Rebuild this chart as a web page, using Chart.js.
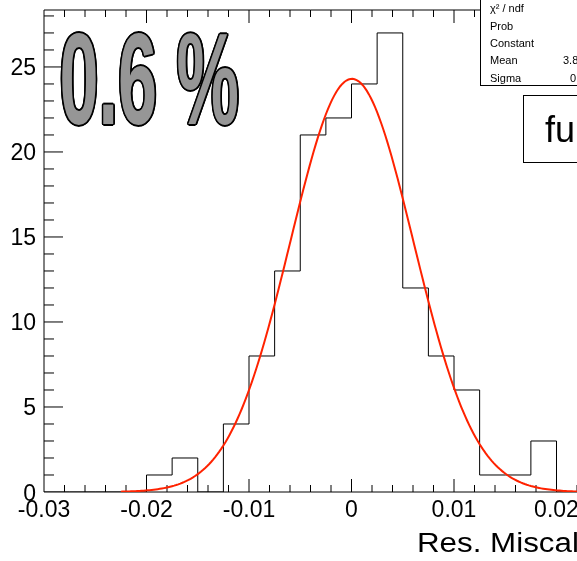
<!DOCTYPE html>
<html>
<head>
<meta charset="utf-8">
<script src="https://cdn.jsdelivr.net/npm/chart.js@4.4.1/dist/chart.umd.min.js"></script>
<style>
  html, body { margin: 0; padding: 0; background: #fff; }
  canvas { display: block; }
</style>
</head>
<body>
<canvas id="resChart" width="577" height="561"></canvas>
<script>
// histogram: low edge of each bin and its entries
const binLowEdges = [-0.03, -0.0275, -0.025, -0.0225, -0.02, -0.0175, -0.015, -0.0125,
                     -0.01, -0.0075, -0.005, -0.0025, 0, 0.0025, 0.005, 0.0075,
                     0.01, 0.0125, 0.015, 0.0175, 0.02, 0.0225, 0.025, 0.0275];
const binCounts = [0, 0, 0, 0, 1, 2, 0, 4,
                   8, 13, 21, 22, 24, 27, 12, 8,
                   6, 1, 1, 3, 0, 0, 0, 0];
const binWidth = 0.0025;

const xTickValues = [-0.03, -0.02, -0.01, 0, 0.01, 0.02];
const xTickLabels = ['-0.03', '-0.02', '-0.01', '0', '0.01', '0.02'];
const yTickValues = [0, 5, 10, 15, 20, 25];
const yTickLabels = ['0', '5', '10', '15', '20', '25'];

// gaus fit parameters
const fitConstant = 24.3;
const fitMean = 0.00004;
const fitSigma = 0.0060;
const fitRange = [-0.0225, 0.0225];

const statsNames = ['\u03C7\u00B2 / ndf', 'Prob', 'Constant', 'Mean', 'Sigma'];
const meanText = '3.8e-05 \u00B1 4.8e-04';
const sigmaText = '0.0060 \u00B1 0.0004';

const TICK_FONT = '23px "Liberation Sans", Arial, sans-serif';

function gaus(x) {
    const t = (x - fitMean) / fitSigma;
    return fitConstant * Math.exp(-0.5 * t * t);
}

const histPoints = binLowEdges.map((x, i) => ({ x, y: binCounts[i] }));
histPoints.push({ x: binLowEdges[binLowEdges.length - 1] + binWidth, y: 0 });

const fitPoints = [];
for (let x = fitRange[0]; x <= fitRange[1] + 1e-9; x += 0.0002) {
    fitPoints.push({ x, y: gaus(x) });
}

// frame, inward ticks and tick labels
const frameAxes = {
    id: 'frameAxes',
    beforeDatasetsDraw(chart) {
        const { ctx, chartArea: a, scales: { x, y } } = chart;
        ctx.save();
        ctx.strokeStyle = '#000';
        ctx.lineWidth = 1;
        ctx.beginPath();
        ctx.moveTo(a.left, a.top); ctx.lineTo(a.right, a.top);
        ctx.moveTo(a.left, a.top); ctx.lineTo(a.left, a.bottom);
        ctx.moveTo(a.left, a.bottom); ctx.lineTo(a.right, a.bottom);
        for (let k = -15; k <= 12; k++) {
            const px = x.getPixelForValue(k * 0.002);
            if (px < a.left + 1 || px > a.right) continue;
            const len = k % 5 === 0 ? 13 : 7;
            ctx.moveTo(px, a.bottom); ctx.lineTo(px, a.bottom - len);
            ctx.moveTo(px, a.top); ctx.lineTo(px, a.top + len);
        }
        for (let v = 1; v <= 28; v++) {
            const py = y.getPixelForValue(v);
            const len = v % 5 === 0 ? 19 : 10;
            ctx.moveTo(a.left, py); ctx.lineTo(a.left + len, py);
        }
        ctx.stroke();

        ctx.fillStyle = '#000';
        ctx.font = TICK_FONT;
        ctx.textAlign = 'center';
        ctx.textBaseline = 'alphabetic';
        xTickValues.forEach((v, i) => {
            ctx.fillText(xTickLabels[i], x.getPixelForValue(v), 517);
        });
        ctx.textAlign = 'right';
        yTickValues.forEach((v, i) => {
            ctx.fillText(yTickLabels[i], 36, y.getPixelForValue(v) + 8.5);
        });
        ctx.restore();
    }
};

// stats box, label boxes, big text and axis title
const overlays = {
    id: 'overlays',
    afterDraw(chart) {
        const { ctx } = chart;
        ctx.save();

        // axis title, a little wider than the stock font
        ctx.save();
        ctx.translate(417, 552);
        ctx.scale(1.16, 1);
        ctx.fillStyle = '#000';
        ctx.font = '27px "Liberation Sans", Arial, sans-serif';
        ctx.textAlign = 'left';
        ctx.textBaseline = 'alphabetic';
        ctx.fillText('Res. Miscalibration', 0, 0);
        ctx.restore();

        // fit statistics
        ctx.fillStyle = '#fff';
        ctx.fillRect(480, -2, 120, 88);
        ctx.strokeStyle = '#000';
        ctx.lineWidth = 1;
        ctx.strokeRect(480.5, -1.5, 120, 87);
        ctx.fillStyle = '#000';
        ctx.font = '11px "Liberation Sans", Arial, sans-serif';
        ctx.textBaseline = 'middle';
        const rows = [9, 27, 44, 61, 79];
        statsNames.forEach((n, i) => ctx.fillText(n, 490, rows[i]));
        ctx.fillText(meanText, 563, rows[3]);
        ctx.fillText(sigmaText, 570, rows[4]);

        // label box on the right
        ctx.fillStyle = '#fff';
        ctx.fillRect(523, 95, 80, 67);
        ctx.strokeRect(523.5, 95.5, 80, 67);
        ctx.fillStyle = '#000';
        ctx.font = '36px "Liberation Sans", Arial, sans-serif';
        ctx.textBaseline = 'alphabetic';
        ctx.fillText('fu', 545, 142);

        // outlined condensed "0.6 %"
        const big = '0.6 %';
        const drawBig = (dx, dy, color) => {
            ctx.save();
            ctx.translate(59.5 + dx, 124 + dy);
            ctx.scale(0.54, 1);
            ctx.font = 'bold 130px "Liberation Sans", Arial, sans-serif';
            ctx.fillStyle = color;
            ctx.fillText(big, 0, 0);
            ctx.restore();
        };
        for (let ang = 0; ang < 360; ang += 30) {
            const r = ang * Math.PI / 180;
            drawBig(1.6 * Math.cos(r), 1.6 * Math.sin(r), '#000');
        }
        drawBig(0, 0, '#969696');

        ctx.restore();
    }
};

const ctx = document.getElementById('resChart').getContext('2d');
new Chart(ctx, {
    type: 'line',
    data: {
        datasets: [{
            label: 'histogram',
            data: histPoints,
            stepped: true,
            borderColor: '#000',
            borderWidth: 1,
            pointRadius: 0,
            fill: false,
            order: 2
        }, {
            label: 'gaus',
            data: fitPoints,
            borderColor: '#ff2200',
            borderWidth: 2,
            pointRadius: 0,
            tension: 0,
            fill: false,
            order: 1
        }]
    },
    options: {
        responsive: false,
        animation: false,
        devicePixelRatio: 1,
        events: [],
        layout: { padding: { left: 44, top: 10, right: 0, bottom: 69 } },
        plugins: {
            legend: { display: false },
            tooltip: { enabled: false }
        },
        scales: {
            x: { type: 'linear', display: false, min: -0.03, max: 0.022 },
            y: { type: 'linear', display: false, min: 0, max: 28.35 }
        }
    },
    plugins: [frameAxes, overlays]
});
</script>
</body>
</html>
